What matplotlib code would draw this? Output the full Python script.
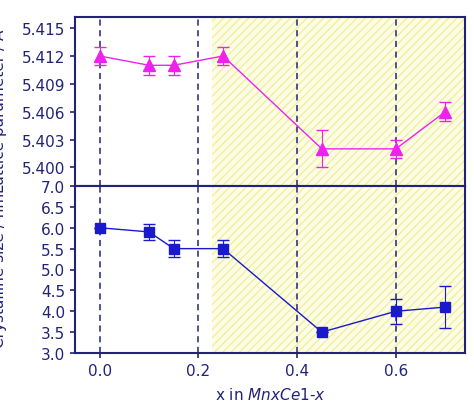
import matplotlib.pyplot as plt

x = [0.0, 0.1, 0.15, 0.25, 0.45, 0.6, 0.7]
lattice = [5.412, 5.411, 5.411, 5.412, 5.402, 5.402, 5.406]
lattice_err = [0.001, 0.001, 0.001, 0.001, 0.002, 0.001, 0.001]
size = [6.0, 5.9, 5.5, 5.5, 3.5, 4.0, 4.1]
size_err = [0.0, 0.2, 0.2, 0.2, 0.0, 0.3, 0.5]
vlines = [0.0, 0.2, 0.4, 0.6]
shade_start = 0.228

navy = "#22227a"
fig = plt.figure(figsize=(4.74, 4.10), dpi=100)
ax1 = fig.add_axes([75/474, 1-187/410, 390/474, 169/410])
ax2 = fig.add_axes([75/474, 1-354/410, 390/474, 167/410], sharex=ax1)

for ax in (ax1, ax2):
    ax.axvspan(shade_start, 0.74, facecolor="#fdfde6", edgecolor="#f0f0a0",
               hatch="////", linewidth=0, zorder=0)
    for v in vlines:
        ax.axvline(v, color=navy, ls=(0, (4, 3)), lw=1.1, zorder=1)
    for s in ax.spines.values():
        s.set_color(navy)
        s.set_linewidth(1.5)
    ax.tick_params(colors=navy, labelcolor=navy, labelsize=11, width=1.2, direction="out")

ax1.errorbar(x, lattice, yerr=lattice_err, color="#ee22ee", marker="^", ms=8,
             lw=1, capsize=4, elinewidth=0.8, zorder=3)
ax1.set_xlim(-0.05, 0.74)
ax1.set_ylim(5.398, 5.4162)
ax1.set_yticks([5.400, 5.403, 5.406, 5.409, 5.412, 5.415])
ax1.set_yticklabels(["5.400", "5.403", "5.406", "5.409", "5.412", "5.415"])
ax1.tick_params(labelbottom=False, bottom=False)
ax1.set_ylabel("Lattice parameter / Å", color=navy, fontsize=11, labelpad=2)
ax1.yaxis.set_label_coords(-0.175, 0.45)

ax2.errorbar(x, size, yerr=size_err, color="#1a1acc", marker="s", ms=7,
             lw=1, capsize=4, elinewidth=0.8, zorder=3)
ax2.set_ylim(3.0, 7.0)
ax2.set_yticks([3.0, 3.5, 4.0, 4.5, 5.0, 5.5, 6.0, 6.5, 7.0])
ax2.set_xticks([0.0, 0.2, 0.4, 0.6])
ax2.set_ylabel("Crystalline size / nm", color=navy, fontsize=11)
ax2.yaxis.set_label_coords(-0.175, 0.5)
ax2.set_xlabel("x in $\\mathit{MnxCe1}$-$\\mathit{x}$", color=navy, fontsize=11, labelpad=6)

fig.savefig("out.png", dpi=100)
